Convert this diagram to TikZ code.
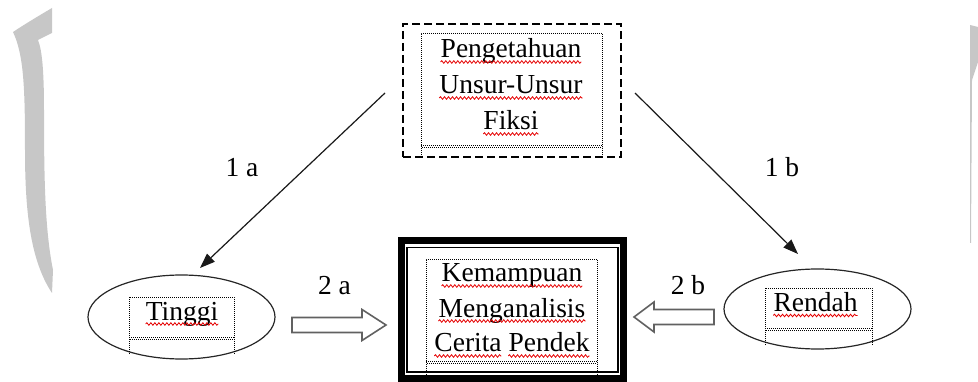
\documentclass[tikz,border=0pt]{standalone}
\usepackage{fontspec}
\setmainfont{Liberation Serif}
\usetikzlibrary{arrows.meta,calc,shapes.geometric,decorations.pathmorphing}
\begin{document}
\begin{tikzpicture}[x=1pt,y=-1pt,
  tx/.style={font=\fontsize{27.5}{33}\selectfont, inner sep=0pt, anchor=base, text=black},
  wavy/.style={draw=red!90!black, line width=0.8pt, decorate,
    decoration={snake, amplitude=1.3pt, segment length=4pt}},
  dotbox/.style={draw=black, line width=0.7pt, dash pattern=on 0.9pt off 1.1pt},
  arr/.style={draw=black!90, line width=1.2pt, -{Triangle[length=15pt,width=11pt]}},
  blk/.style={draw=black!62, line width=1.6pt, fill=white, line join=miter},
  oval/.style={ellipse, draw=black!85, line width=1.2pt, inner sep=0pt, outer sep=0pt},
  wmark/.style={fill=black!22, draw=none}]
\useasboundingbox (0,0) rectangle (978,382);
% watermark fragments
\fill[wmark] (52,8) .. controls (35,18) and (22,26) .. (13,32)
  .. controls (24,55) and (25,90) .. (25,150)
  .. controls (25,210) and (30,260) .. (52,293)
  -- (53,270) .. controls (45,230) and (44,180) .. (44,110)
  .. controls (44,70) and (42,50) .. (38,40) -- (52,33) -- cycle;
\fill[wmark] (970,25) -- (978,27) -- (978,62) -- (972,80) -- (971,243) -- (970,243) -- cycle;
% main boxes
\node[draw=black, line width=2.2pt, dash pattern=on 8pt off 4pt, minimum width=218pt,
  minimum height=133pt, inner sep=0pt, outer sep=0pt] (top) at (512,90.5) {};
\node[draw=black, line width=7pt, minimum width=222pt, minimum height=138pt,
  inner sep=0pt, outer sep=0pt] (mid) at (512.5,309.5) {};
\draw[black, line width=1.2pt] ([shift={(5.5,7)}]mid.north west) rectangle ([shift={(-5.5,-6.5)}]mid.south east);
\node[oval, minimum width=187pt, minimum height=84pt] (tinggi) at (181.5,317) {};
\node[oval, minimum width=187pt, minimum height=80pt] (rendah) at (817.5,309) {};
% inner dotted text frames
\draw[dotbox] (421,157) -- (421,33) -- (602,33) -- (602,157);
\draw[dotbox] (421,145.5) -- (602,145.5);
\draw[dotbox, dash phase=1pt] (421,147) -- (602,147);
\draw[dotbox] (426,385) -- (426,259) -- (597,259) -- (597,385);
\draw[dotbox] (426,361.5) -- (597,361.5);
\draw[dotbox, dash phase=1pt] (426,363) -- (597,363);
\draw[dotbox] (129,354) -- (129,297) -- (234,297) -- (234,354);
\draw[dotbox] (129,337.5) -- (234,337.5);
\draw[dotbox, dash phase=1pt] (129,339) -- (234,339);
\draw[dotbox] (765,345) -- (765,288) -- (872,288) -- (872,345);
\draw[dotbox] (765,328.5) -- (872,328.5);
\draw[dotbox, dash phase=1pt] (765,330) -- (872,330);
% texts
\node[tx] (t1) at (511,58) {Pengetahuan};
\node[tx] (t2) at (511,94) {Unsur-Unsur};
\node[tx] (t3) at (511,130) {Fiksi};
\node[tx] (m1) at (512,282) {Kemampuan};
\node[tx] (m2) at (512,317) {Menganalisis};
\node[tx] (m3) at (512,352) {Cerita Pendek};
\node[tx] (ttg) at (182,320) {Tinggi};
\node[tx] (rdh) at (815.5,311.5) {Rendah};
\node[tx] (l1a) at (242,176.5) {1 a};
\node[tx] (l1b) at (782,176.5) {1 b};
\node[tx] (l2a) at (334.5,295) {2 a};
\node[tx] (l2b) at (688,295) {2 b};
% spell-check underlines
\foreach \n in {t1,t2,t3,m1,m2,ttg,rdh}
  \draw[wavy] ([shift={(0,4)}]\n.base west) -- ([shift={(0,4)}]\n.base east);
\draw[wavy] ([shift={(0,4)}]m3.base west) -- ([shift={(67,4)}]m3.base west);
\draw[wavy] ([shift={(74,4)}]m3.base west) -- ([shift={(0,4)}]m3.base east);
% connectors
\draw[arr] ($(top.west)+(-18,2.5)$) -- ($(tinggi.center)+(18.5,-49)$);
\draw[arr] ($(top.east)+(14,2.5)$) -- ($(rendah.center)+(-19.5,-55)$);
\coordinate (b2a) at (292,325);
\draw[blk] (b2a) ++(0,-7.5) -- ++(70,0) -- ++(0,-8) -- ++(24,15.5) -- ++(-24,15.5) -- ++(0,-8) -- ++(-70,0) -- cycle;
\coordinate (b2b) at (714,317);
\draw[blk] (b2b) ++(0,-7.5) -- ++(-60,0) -- ++(0,-7.5) -- ++(-20,15) -- ++(20,15) -- ++(0,-7.5) -- ++(60,0) -- cycle;
\end{tikzpicture}
\end{document}
